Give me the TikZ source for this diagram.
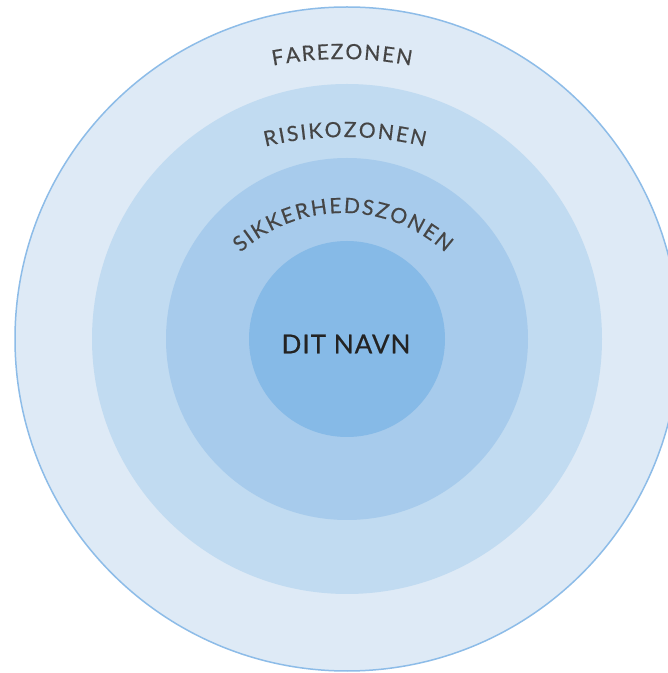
\documentclass[tikz,border=0pt]{standalone}
\usepackage{fontspec}
\setmainfont{Lato}
\newfontfamily\zonefont[FakeBold=0.5]{Lato}
\usetikzlibrary{decorations.text,calc}
\definecolor{ringA}{HTML}{DEEAF6}
\definecolor{ringB}{HTML}{C1DBF1}
\definecolor{ringC}{HTML}{A7CBEC}
\definecolor{ringD}{HTML}{86BAE7}
\definecolor{ringLine}{HTML}{8DBCE8}
\definecolor{labelgray}{HTML}{454545}
\definecolor{namecolor}{HTML}{232323}
\begin{document}
\begin{tikzpicture}[x=1pt,y=1pt,
  ring/.style={circle, inner sep=0pt, outer sep=0pt},
  arclabel/.style={decorate, decoration={text along path, text align=center, text color=labelgray}}]
\useasboundingbox (0,0) rectangle (668,673);
\clip (0,0) rectangle (668,673);
\fill[white] (0,0) rectangle (668,673);
\coordinate (C) at (347,334);
\node[ring, fill=ringA, draw=ringLine, line width=1.5pt, minimum size=664pt] (fare) at (C) {};
\node[ring, fill=ringB, minimum size=510pt] (risiko) at (C) {};
\node[ring, fill=ringC, minimum size=362pt] (sikker) at (C) {};
\node[ring, fill=ringD, minimum size=196pt] (inner) at (C) {};
\node[text=namecolor, inner sep=0pt, font={\zonefont\fontsize{26}{30}\selectfont\addfontfeatures{LetterSpace=4}}] (navn) at (346,329) {DIT NAVN};
\coordinate (fc) at (342,254);
\coordinate (rc) at (345,202);
\coordinate (sc) at (343,308);
\path[arclabel, decoration={text={|\zonefont\fontsize{21}{24}\selectfont|{F\kern1.7pt}{A\kern1.7pt}{R\kern1.7pt}{E\kern1.7pt}{Z\kern1.7pt}{O\kern1.7pt}{N\kern1.7pt}{E\kern1.7pt}N}}]
  ($(fc)+(125:360)$) arc[start angle=125, end angle=55, radius=360];
\path[arclabel, decoration={text={|\zonefont\fontsize{21}{24}\selectfont|{R\kern2pt}{I\kern2pt}{S\kern2pt}{I\kern2pt}{K\kern2pt}{O\kern2pt}{Z\kern2pt}{O\kern2pt}{N\kern2pt}{E\kern2pt}N}}]
  ($(rc)+(125:334)$) arc[start angle=125, end angle=55, radius=334];
\path[arclabel, decoration={text={|\zonefont\fontsize{21}{24}\selectfont|{S\kern1.8pt}{I\kern1.8pt}{K\kern1.8pt}{K\kern1.8pt}{E\kern1.8pt}{R\kern1.8pt}{H\kern1.8pt}{E\kern1.8pt}{D\kern1.8pt}{S\kern1.8pt}{Z\kern1.8pt}{O\kern1.8pt}{N\kern1.8pt}{E\kern1.8pt}N}}]
  ($(sc)+(160:152)$) arc[start angle=160, end angle=20, radius=152];
\end{tikzpicture}
\end{document}
